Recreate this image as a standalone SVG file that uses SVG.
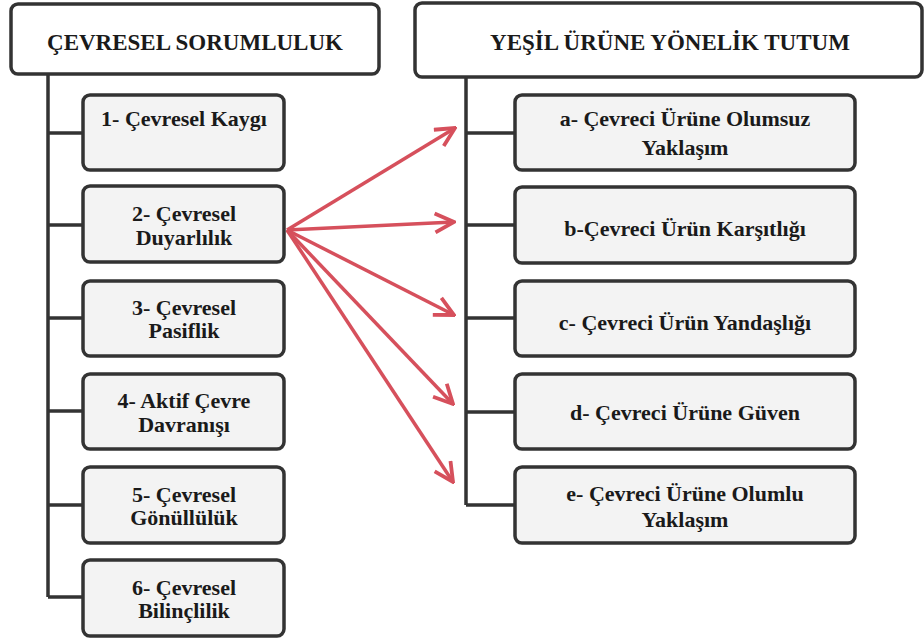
<svg xmlns="http://www.w3.org/2000/svg" width="924" height="641" viewBox="0 0 924 641">
<defs>
<style>
.hdr{fill:#fff;stroke:#333;stroke-width:3.5}
.box{fill:#f3f3f3;stroke:#333;stroke-width:3.5}
.ln{stroke:#333;stroke-width:3.5;fill:none}
text{font-family:'Liberation Serif','Times New Roman','DejaVu Serif',serif;font-weight:bold;font-size:22px;fill:#1a1a1a;text-anchor:middle}
.h{font-size:23px}
.arr{stroke:#d6505c;stroke-width:3.5;fill:none;marker-end:url(#ah)}
</style>
<marker id="ah" viewBox="0 0 12 12" refX="11" refY="6" markerWidth="6.5" markerHeight="6.5" orient="auto" markerUnits="strokeWidth">
<path d="M1,1 L11,6 L1,11" fill="none" stroke="#d6505c" stroke-width="2" stroke-linejoin="miter"/>
</marker>
</defs>

<g id="connectors">
<path class="ln" d="M48,74 V597 M48,133 H83 M48,225 H83 M48,318 H83 M48,411 H83 M48,505 H83 M48,597 H83"/>
<path class="ln" d="M466,77 V505 M466,133 H515 M466,225 H515 M466,318 H515 M466,412 H515 M466,505 H515"/>
<g id="arrows">
<line class="arr" x1="287" y1="230" x2="455" y2="128"/>
<line class="arr" x1="287" y1="230" x2="454" y2="222"/>
<line class="arr" x1="287" y1="230" x2="454" y2="315"/>
<line class="arr" x1="287" y1="230" x2="453" y2="404"/>
<line class="arr" x1="287" y1="230" x2="453" y2="482"/>
</g>
</g>

<g id="left-header"><rect class="hdr" x="11" y="4" width="368" height="70" rx="7"/><text class="h" x="195" y="50">ÇEVRESEL SORUMLULUK</text></g>
<g id="right-header"><rect class="hdr" x="415" y="3" width="507" height="74" rx="7"/><text class="h" x="670" y="50">YEŞİL ÜRÜNE YÖNELİK TUTUM</text></g>

<g id="l1"><rect class="box" x="83" y="95" width="201" height="75" rx="7"/><text x="184" y="126">1- Çevresel Kaygı</text></g>
<g id="l2"><rect class="box" x="83" y="186" width="201" height="76" rx="7"/><text x="184" y="221">2- Çevresel</text><text x="184" y="245">Duyarlılık</text></g>
<g id="l3"><rect class="box" x="83" y="281" width="201" height="75" rx="7"/><text x="184" y="315">3- Çevresel</text><text x="184" y="338">Pasiflik</text></g>
<g id="l4"><rect class="box" x="83" y="374" width="201" height="75" rx="7"/><text x="184" y="408">4- Aktif Çevre</text><text x="184" y="432">Davranışı</text></g>
<g id="l5"><rect class="box" x="83" y="467" width="201" height="76" rx="7"/><text x="184" y="502">5- Çevresel</text><text x="184" y="525">Gönüllülük</text></g>
<g id="l6"><rect class="box" x="83" y="560" width="201" height="76" rx="7"/><text x="184" y="595">6- Çevresel</text><text x="184" y="618">Bilinçlilik</text></g>

<g id="ra"><rect class="box" x="515" y="95" width="340" height="75" rx="7"/><text x="685" y="126">a- Çevreci Ürüne Olumsuz</text><text x="685" y="155">Yaklaşım</text></g>
<g id="rb"><rect class="box" x="515" y="187" width="340" height="76" rx="7"/><text x="685" y="236">b-Çevreci Ürün Karşıtlığı</text></g>
<g id="rc"><rect class="box" x="515" y="281" width="340" height="75" rx="7"/><text x="685" y="330">c- Çevreci Ürün Yandaşlığı</text></g>
<g id="rd"><rect class="box" x="515" y="374" width="340" height="75" rx="7"/><text x="685" y="420">d- Çevreci Ürüne Güven</text></g>
<g id="re"><rect class="box" x="515" y="467" width="340" height="76" rx="7"/><text x="685" y="501">e- Çevreci Ürüne Olumlu</text><text x="685" y="527">Yaklaşım</text></g>
</svg>
